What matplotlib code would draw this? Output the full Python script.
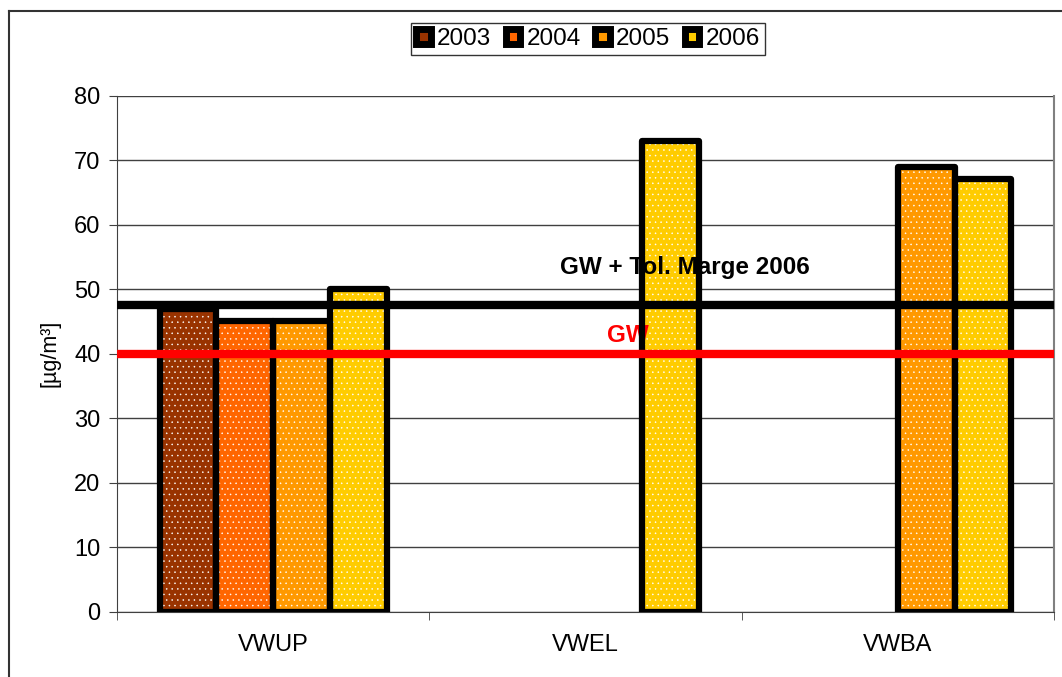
import numpy as np
import matplotlib
matplotlib.use("Agg")
import matplotlib.pyplot as plt
from matplotlib.patches import Patch
from matplotlib.lines import Line2D

plt.rcParams['font.family'] = ['Liberation Sans', 'DejaVu Sans']
plt.rcParams['hatch.linewidth'] = 0.35

categories = ["VWUP", "VWEL", "VWBA"]
years = ["2003", "2004", "2005", "2006"]
values = {
    "2003": [47, np.nan, np.nan],
    "2004": [45, np.nan, np.nan],
    "2005": [45, np.nan, 69],
    "2006": [50, 73, 67],
}
colors = ["#993300", "#FF6600", "#FF9900", "#FFCC00"]
gw = 40
gw_tol = 47.5
y_ticks = [0, 10, 20, 30, 40, 50, 60, 70, 80]

fig = plt.figure(figsize=(10.62, 6.77), dpi=100)
ax = fig.add_axes([117/1062, 1-612/677, (1054-117)/1062, (612-95.5)/677])

x = np.arange(len(categories))
w = 1/5.5
for i, (yr, col) in enumerate(zip(years, colors)):
    vals = np.array(values[yr], dtype=float)
    pos = x + (i - 1.5) * w
    ax.bar(pos, vals, width=w, color=col, edgecolor='#FFFFFF', hatch='...',
           linewidth=0, zorder=2)
    bars = ax.bar(pos, vals, width=w, fill=False, edgecolor='black',
                  linewidth=4.5, zorder=3)
    for b in bars:
        b.set_joinstyle('round')

ax.axhline(gw_tol, color='black', lw=6, zorder=4, solid_capstyle='round')
ax.axhline(gw, color='#FF0000', lw=6, zorder=4, solid_capstyle='round')

ax.text(1.319, 53.4, "GW + Tol. Marge 2006", ha='center', va='center',
        fontsize=17.5, fontweight='bold', color='black', zorder=2.5)
ax.text(1.069, 42.9, "GW", ha='left', va='center', fontsize=17.5,
        fontweight='bold', color='#FF0000', zorder=2.5)

ax.set_xlim(-0.5, 2.5)
ax.set_ylim(0, 80)
ax.set_yticks(y_ticks)
ax.set_yticklabels([str(v) for v in y_ticks], fontsize=17)
ax.set_xticks(x)
ax.set_xticklabels(categories, fontsize=17)
ax.tick_params(axis='x', which='major', length=0, pad=16)
ax.set_xticks([-0.5, 0.5, 1.5, 2.5], minor=True)
ax.tick_params(axis='x', which='minor', length=6, color='#404040', direction='out')
ax.tick_params(axis='y', length=6, color='#404040', direction='out', pad=6)
ax.yaxis.grid(True, color='#404040', lw=1)
ax.set_axisbelow(True)
ax.spines['top'].set_visible(False)
ax.spines['right'].set_color('#808080')
ax.spines['right'].set_linewidth(1.5)
ax.spines['left'].set_color('#404040')
ax.spines['bottom'].set_color('#404040')
ax.set_ylabel("[µg/m³]", fontsize=15.5, labelpad=10)

handles = [Patch(facecolor=c, edgecolor='black', linewidth=5, label=y)
           for y, c in zip(years, colors)]
leg = fig.legend(handles=handles, loc='center', bbox_to_anchor=(588/1062, 1-39/677),
                 ncol=4, fontsize=17.5, frameon=True, fancybox=False,
                 handlelength=0.6, handleheight=0.6, handletextpad=0.25,
                 columnspacing=0.6, borderpad=0.2, borderaxespad=0)
leg.get_frame().set_edgecolor('black')
leg.get_frame().set_linewidth(1)

fig.add_artist(Line2D([9/1062, 9/1062], [0, 1-11/677], color='#333333', lw=1.5,
                      transform=fig.transFigure))
fig.add_artist(Line2D([9/1062, 1], [1-11/677, 1-11/677], color='#333333', lw=1.5,
                      transform=fig.transFigure))

fig.savefig("out.png", dpi=100)
